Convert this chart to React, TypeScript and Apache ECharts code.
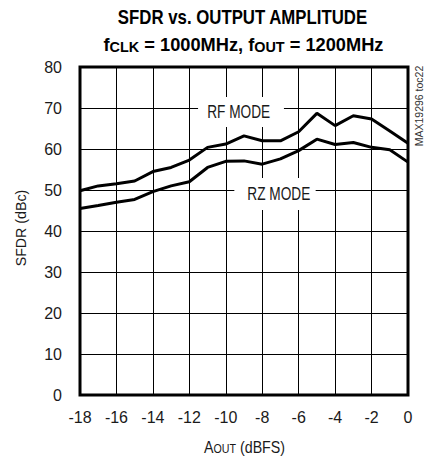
import React, { useEffect, useRef } from "react";
import * as echarts from "echarts";

const xValues = [-18, -17, -16, -15, -14, -13, -12, -11, -10, -9, -8, -7, -6, -5, -4, -3, -2, -1, 0];
const rfMode = [49.8, 51.0, 51.5, 52.2, 54.5, 55.5, 57.3, 60.4, 61.2, 63.2, 62.0, 62.0, 64.2, 68.7, 65.7, 68.1, 67.3, 64.4, 61.4];
const rzMode = [45.5, 46.2, 47.0, 47.7, 49.6, 51.0, 52.0, 55.5, 57.0, 57.1, 56.3, 57.6, 59.6, 62.4, 61.1, 61.6, 60.4, 59.8, 56.8];

const FONT = "'Liberation Sans', Arial, sans-serif";

export default function App() {
  const ref = useRef<HTMLDivElement>(null);
  useEffect(() => {
    if (!ref.current) return;
    const chart = echarts.init(ref.current, null, { renderer: "svg" });
    const pair = (arr: number[]) => xValues.map((x, i) => [x, arr[i]]);
    chart.setOption({
      animation: false,
      backgroundColor: "#fff",
      grid: {
        left: 80,
        right: 18,
        top: 67,
        bottom: 63,
        show: true,
        borderColor: "#000",
        borderWidth: 3,
        backgroundColor: "transparent",
      },
      xAxis: {
        type: "value",
        min: -18,
        max: 0,
        interval: 2,
        axisLine: { show: false },
        axisTick: { show: false },
        splitLine: { show: true, lineStyle: { color: "#000", width: 1 } },
        axisLabel: { color: "#1a1a1a", fontSize: 16, fontFamily: FONT, margin: 14 },
      },
      yAxis: {
        type: "value",
        min: 0,
        max: 80,
        interval: 10,
        axisLine: { show: false },
        axisTick: { show: false },
        splitLine: { show: true, lineStyle: { color: "#000", width: 1 } },
        axisLabel: { color: "#1a1a1a", fontSize: 16, fontFamily: FONT, margin: 18 },
      },
      series: [
        {
          name: "RF MODE",
          type: "line",
          data: pair(rfMode),
          showSymbol: false,
          symbol: "none",
          lineStyle: { color: "#000", width: 3 },
          z: 3,
        },
        {
          name: "RZ MODE",
          type: "line",
          data: pair(rzMode),
          showSymbol: false,
          symbol: "none",
          lineStyle: { color: "#000", width: 3 },
          z: 3,
        },
      ],
      graphic: [
        {
          type: "text",
          x: 242.5,
          y: 17,
          scaleX: 0.84,
          z: 10,
          style: {
            text: "SFDR vs. OUTPUT AMPLITUDE",
            fill: "#000",
            font: `bold 20px ${FONT}`,
            align: "center",
            verticalAlign: "middle",
          },
        },
        {
          type: "text",
          x: 243.5,
          y: 43,
          scaleX: 0.96,
          z: 10,
          style: {
            text: "{m|f}{s|CLK}{m| = 1000MHz, f}{s|OUT}{m| = 1200MHz}",
            fill: "#000",
            align: "center",
            verticalAlign: "middle",
            rich: {
              m: { fontFamily: FONT, fontWeight: "bold", fontSize: 19, lineHeight: 22, verticalAlign: "bottom", fill: "#000" },
              s: { fontFamily: FONT, fontWeight: "bold", fontSize: 15, lineHeight: 11, verticalAlign: "bottom", fill: "#000" },
            },
          },
        },
        {
          type: "text",
          x: 21,
          y: 228,
          rotation: Math.PI / 2,
          scaleX: 0.95,
          z: 10,
          style: {
            text: "SFDR (dBc)",
            fill: "#1a1a1a",
            font: `15px ${FONT}`,
            align: "center",
            verticalAlign: "middle",
          },
        },
        {
          type: "text",
          x: 244.5,
          y: 445,
          scaleX: 0.89,
          z: 10,
          style: {
            text: "{m|A}{s|OUT}{m| (dBFS)}",
            fill: "#1a1a1a",
            align: "center",
            verticalAlign: "middle",
            rich: {
              m: { fontFamily: FONT, fontSize: 16, lineHeight: 20, verticalAlign: "bottom", fill: "#1a1a1a" },
              s: { fontFamily: FONT, fontSize: 12, lineHeight: 10, verticalAlign: "bottom", fill: "#1a1a1a" },
            },
          },
        },
        {
          type: "text",
          x: 418.5,
          y: 106,
          rotation: Math.PI / 2,
          z: 10,
          style: {
            text: "MAX19296 toc22",
            fill: "#333",
            font: `10.5px ${FONT}`,
            align: "center",
            verticalAlign: "middle",
          },
        },
        {
          type: "text",
          x: 241,
          y: 112,
          scaleX: 0.76,
          z: 10,
          style: {
            text: "RF MODE",
            fill: "#1a1a1a",
            font: `18px ${FONT}`,
            align: "center",
            verticalAlign: "middle",
            backgroundColor: "#fff",
            padding: [6, 18, 6, 12],
          },
        },
        {
          type: "text",
          x: 275,
          y: 194,
          scaleX: 0.76,
          z: 10,
          style: {
            text: "RZ MODE",
            fill: "#1a1a1a",
            font: `18px ${FONT}`,
            align: "center",
            verticalAlign: "middle",
            backgroundColor: "#fff",
            padding: [7, 7, 7, 17],
          },
        },
      ],
    });
    return () => chart.dispose();
  }, []);
  return (
    <div
      ref={ref}
      style={{ position: "absolute", left: 0, top: 0, width: 426, height: 458 }}
    />
  );
}
